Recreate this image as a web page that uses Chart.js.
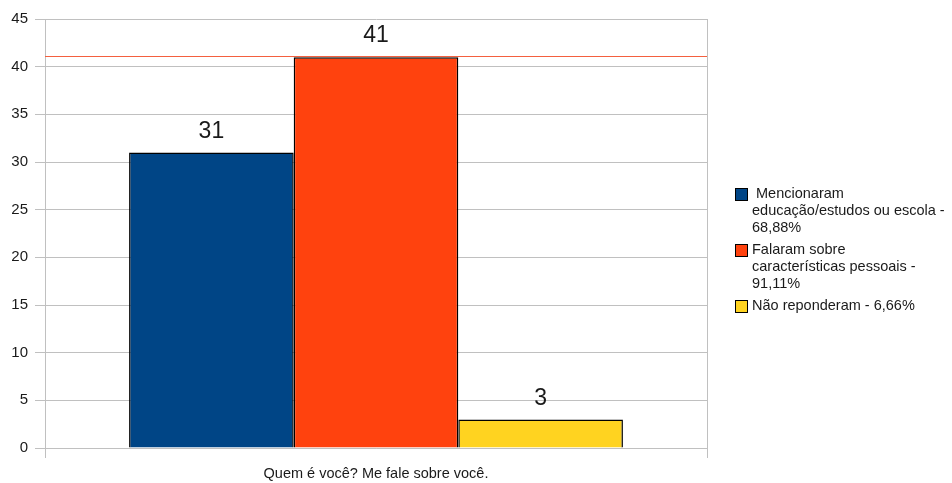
<!DOCTYPE html>
<html>
<head>
<meta charset="utf-8">
<script src="https://cdn.jsdelivr.net/npm/chart.js@4"></script>
<style>
body { margin: 0; background: #fff; font-family: "Liberation Sans", Arial, sans-serif; }
#wrap { position: relative; width: 952px; height: 483px; }
#legend { position: absolute; left: 735px; top: 185px; font-size: 14.5px; color: #1a1a1a; line-height: 17px; }
.item { display: flex; margin-bottom: 5px; }
.box { width: 11px; height: 11px; border: 1px solid #000; margin: 3px 4px 0 0; flex: none; }
.txt { white-space: pre; }
</style>
</head>
<body>
<div id="wrap">
  <canvas id="chart"></canvas>
  <div id="legend"></div>
</div>
<script>
// dados
const categories = ['Quem é você? Me fale sobre você.'];
const seriesNames = [
    [' Mencionaram', 'educação/estudos ou escola -', '68,88%'],
    ['Falaram sobre', 'características pessoais -', '91,11%'],
    ['Não reponderam - 6,66%']
];
const seriesValues = [31, 41, 3];
const seriesColors = ['#004586', '#ff420e', '#ffd320'];
const yMax = 45;
const yStep = 5;
const refLine = [41];

const gridColor = '#c0c0c0';
const fontFamily = '"Liberation Sans", Arial, sans-serif';

// legenda em HTML (textos com quebra de linha)
document.getElementById('legend').innerHTML = seriesNames.map((lines, i) => `
    <div class="item"><div class="box" style="background:${seriesColors[i]}"></div><div class="txt">${lines.join('<br>')}</div></div>
`).join('');

// linha horizontal de referência
const refLinePlugin = {
    id: 'refLine',
    beforeDatasetsDraw(chart) {
        let ctx = chart.ctx, area = chart.chartArea, y = chart.scales.y;
        ctx.save();
        ctx.fillStyle = '#f4603f';
        refLine.forEach(v => {
            let py = Math.round(y.getPixelForValue(v));
            ctx.fillRect(area.left, py - 1, area.right - area.left, 1);
        });
        ctx.restore();
    }
};

// valores acima das barras
const valueLabels = {
    id: 'valueLabels',
    afterDatasetsDraw(chart) {
        let ctx = chart.ctx;
        ctx.save();
        ctx.font = '23px ' + fontFamily;
        ctx.fillStyle = '#1a1a1a';
        ctx.textAlign = 'center';
        ctx.textBaseline = 'middle';
        chart.data.datasets.forEach((ds, i) => {
            chart.getDatasetMeta(i).data.forEach((bar, j) => {
                ctx.fillText(ds.data[j], bar.x, bar.y - 21);
            });
        });
        ctx.restore();
    }
};

new Chart(document.getElementById('chart'), {
    type: 'bar',
    data: {
        labels: categories,
        datasets: seriesValues.map((v, i) => ({
            label: seriesNames[i].join(' ').trim(),
            data: [v],
            backgroundColor: seriesColors[i],
            borderColor: '#000',
            borderWidth: 1.5,
            barPercentage: 1,
            categoryPercentage: 0.746
        }))
    },
    options: {
        responsive: true,
        maintainAspectRatio: false,
        animation: false,
        layout: { padding: { top: 19, right: 245, left: 0, bottom: 0 } },
        plugins: { legend: { display: false }, tooltip: { enabled: false } },
        scales: {
            x: {
                grid: { offset: true, color: gridColor, tickLength: 10 },
                border: { color: gridColor },
                ticks: { font: { family: fontFamily, size: 14.5 }, color: '#1a1a1a', padding: 7 },
                afterFit: s => { s.height = 35; }
            },
            y: {
                min: 0,
                max: yMax,
                ticks: { stepSize: yStep, padding: 7, font: { family: fontFamily, size: 15 }, color: '#1a1a1a' },
                grid: { color: gridColor, tickLength: 10 },
                border: { color: gridColor },
                afterFit: s => { s.width = 45; }
            }
        }
    },
    plugins: [refLinePlugin, valueLabels]
});
</script>
</body>
</html>
